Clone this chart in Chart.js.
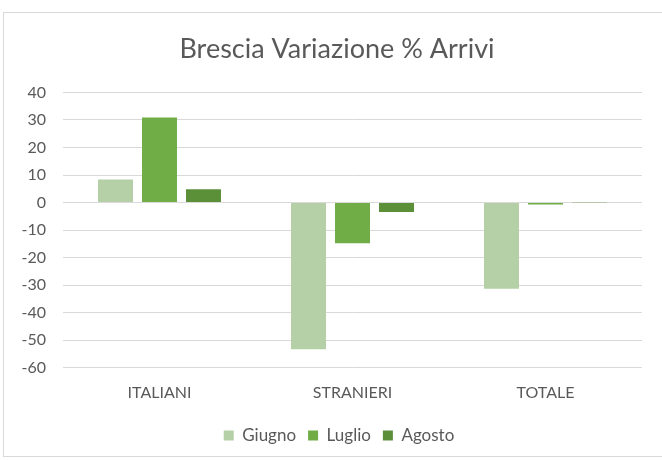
<!DOCTYPE html>
<html>
<head>
<meta charset="utf-8">
<script src="https://cdn.jsdelivr.net/npm/chart.js@4.4.1/dist/chart.umd.min.js"></script>
<style>
    html, body { margin: 0; padding: 0; background: #fff; }
    #frame {
        position: absolute; left: 3px; top: 12px; width: 680px; height: 443px;
        border: 1px solid #d9d9d9;
    }
    #wrap { position: absolute; left: 0; top: 0; width: 662px; height: 460px; }
</style>
</head>
<body>
<div id="frame"></div>
<div id="wrap"><canvas id="chart" width="662" height="460"></canvas></div>
<script>
const categories = ["ITALIANI", "STRANIERI", "TOTALE"];
const giugno = [8.4, -53.3, -31.3];
const luglio = [30.9, -14.8, -0.7];
const agosto = [4.8, -3.4, -0.1];
const seriesNames = ["Giugno", "Luglio", "Agosto"];
const seriesColors = ["#b5cfa7", "#70ad47", "#5b9039"];

const textColor = "#595959";
const fontFamily = "Lato, 'Liberation Sans', sans-serif";

// the original centres title and legend a bit right of the canvas middle
const shiftBlocks = {
    id: "shiftBlocks",
    afterLayout(chart) {
        chart.titleBlock.left += 16;
        chart.titleBlock.right += 16;
        chart.legend.left += 18;
        chart.legend.right += 18;
    },
};

const chart = new Chart(document.getElementById("chart"), {
    type: "bar",
    data: {
        labels: categories,
        datasets: [giugno, luglio, agosto].map((values, i) => ({
            label: seriesNames[i],
            data: values,
            backgroundColor: seriesColors[i],
            borderWidth: 0,
            categoryPercentage: 0.684,
            barPercentage: 0.795,
        })),
    },
    options: {
        responsive: false,
        animation: false,
        layout: {padding: {top: 33, left: 0, right: 20, bottom: 6}},
        plugins: {
            title: {
                display: true,
                text: "Brescia Variazione % Arrivi",
                color: textColor,
                font: {family: fontFamily, size: 27, weight: "normal"},
                padding: {top: 0, bottom: 27},
            },
            legend: {
                position: "bottom",
                labels: {
                    color: textColor,
                    font: {family: fontFamily, size: 17},
                    boxWidth: 10,
                    boxHeight: 10,
                    padding: 12,
                },
            },
            tooltip: {enabled: false},
        },
        scales: {
            x: {
                afterFit: (scale) => { scale.height += 6; },
                grid: {display: false},
                border: {display: false},
                ticks: {color: textColor, font: {family: fontFamily, size: 16}, padding: 7},
            },
            y: {
                min: -60,
                max: 40,
                afterFit: (scale) => { scale.width = 63; },
                ticks: {stepSize: 10, color: textColor, font: {family: fontFamily, size: 16}, padding: 17},
                grid: {color: "#d9d9d9", lineWidth: 1, drawTicks: false},
                border: {display: false},
            },
        },
    },
    plugins: [shiftBlocks],
});
</script>
</body>
</html>
